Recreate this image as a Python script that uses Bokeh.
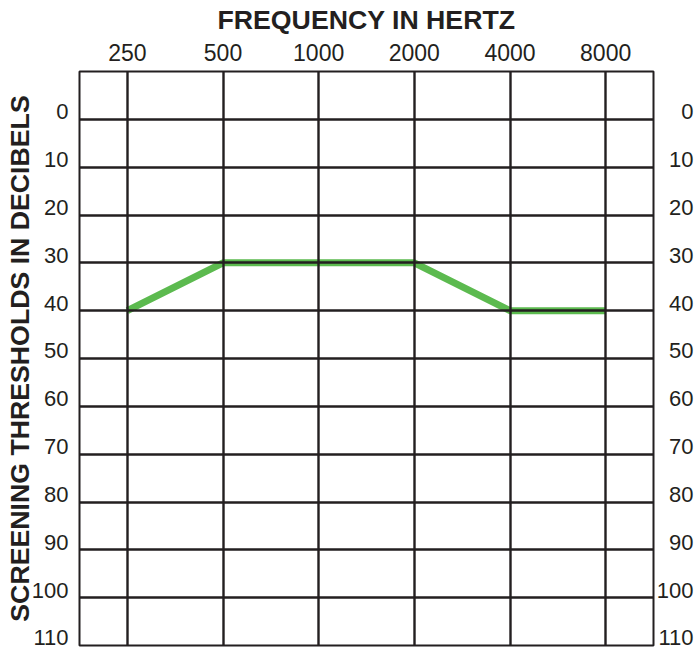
import math
from bokeh.plotting import figure
from bokeh.layouts import row
from bokeh.models import Range1d, LinearAxis, FixedTicker
from bokeh.embed import file_html
from bokeh.resources import INLINE

# ---- data ----
frequencies = [250, 500, 1000, 2000, 4000, 8000]
frequency_labels = ["250", "500", "1000", "2000", "4000", "8000"]
thresholds_db = [40, 30, 30, 30, 40, 40]
db_ticks = [0, 10, 20, 30, 40, 50, 60, 70, 80, 90, 100, 110]
db_labels = ["0", "10", "20", "30", "40", "50", "60", "70", "80", "90", "100", "110"]
x_title = "FREQUENCY IN HERTZ"
y_title = "SCREENING THRESHOLDS IN DECIBELS"

# ---- layout / style ----
W, H = 696, 649
LEFT, TOP = 79, 71
FW, FH = 574, 574
RIGHT_PAD = 2
SIDE_W = W - LEFT - FW - RIGHT_PAD
INK = "#231f20"
GREEN = "#5cba4f"
FONT = "Liberation Sans"
LABEL_SHIFT = 1.6  # label raise above grid line, in dB units
Y_TOP, Y_BOTTOM = db_ticks[0] - 10, db_ticks[-1]

p = figure(width=LEFT + FW + RIGHT_PAD, height=H, x_axis_type="log",
           x_axis_location="above", y_axis_location=None,
           x_range=Range1d(frequencies[0] / math.sqrt(2), frequencies[-1] * math.sqrt(2)),
           y_range=Range1d(Y_BOTTOM, Y_TOP),
           output_backend="svg", toolbar_location=None,
           min_border_left=LEFT, min_border_top=TOP,
           min_border_right=RIGHT_PAD, min_border_bottom=H - TOP - FH)
p.background_fill_color = "white"
p.border_fill_color = "white"
p.outline_line_color = INK
p.outline_line_width = 2

label_range = Range1d(Y_BOTTOM + LABEL_SHIFT, Y_TOP + LABEL_SHIFT)
p.extra_y_ranges = {"lab": label_range}


def style_axis(ax, size, standoff):
    ax.axis_line_color = None
    ax.major_tick_line_color = None
    ax.minor_tick_line_color = None
    ax.major_tick_out = 0
    ax.major_tick_in = 0
    ax.major_label_standoff = standoff
    ax.major_label_text_font = FONT
    ax.major_label_text_font_size = size
    ax.major_label_text_color = INK
    ax.axis_label_text_font = FONT
    ax.axis_label_text_font_size = "26.7px"
    ax.axis_label_text_font_style = "bold"
    ax.axis_label_text_color = INK


# top axis
xa = p.xaxis[0]
xa.ticker = FixedTicker(ticks=frequencies)
xa.major_label_overrides = {f: l for f, l in zip(frequencies, frequency_labels)}
style_axis(xa, "23px", 11)
xa.axis_label = x_title
xa.axis_label_standoff = 6

# left axis
ya = LinearAxis(y_range_name="lab", ticker=FixedTicker(ticks=db_ticks))
ya.major_label_overrides = {t: l for t, l in zip(db_ticks, db_labels)}
style_axis(ya, "22px", 11)
ya.axis_label = y_title
ya.axis_label_standoff = -6
p.add_layout(ya, "left")

# grids
p.xgrid.ticker = FixedTicker(ticks=frequencies)
p.ygrid.ticker = FixedTicker(ticks=db_ticks)
for g in (p.xgrid[0], p.ygrid[0]):
    g.grid_line_color = INK
    g.grid_line_width = 2.4
    g.grid_line_alpha = 1.0
    g.level = "guide"

# threshold line
p.line(frequencies, thresholds_db, line_color=GREEN, line_width=7)

# right-hand labels: narrow companion figure sharing the label scale
side = figure(width=SIDE_W, height=H, x_axis_location=None, y_axis_location=None,
              x_range=Range1d(0, SIDE_W), y_range=label_range,
              output_backend="svg", toolbar_location=None,
              min_border_left=0, min_border_right=0,
              min_border_top=TOP, min_border_bottom=H - TOP - FH)
side.outline_line_color = None
side.background_fill_color = "white"
side.border_fill_color = "white"
side.xgrid.visible = False
side.ygrid.visible = False
side.text(x=[SIDE_W - 3] * len(db_ticks), y=db_ticks, text=db_labels,
          text_align="right", text_baseline="middle",
          text_font={"value": FONT}, text_font_size="22px", text_color=INK)

layout = row(p, side, spacing=0)
open("out.html", "w").write(file_html(layout, INLINE))
